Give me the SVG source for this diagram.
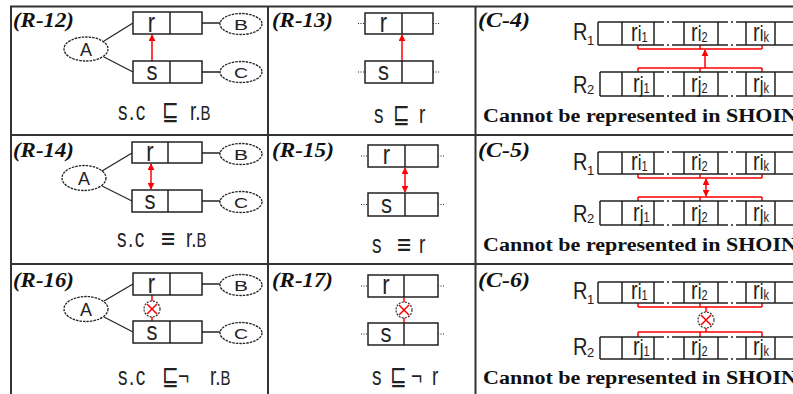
<svg xmlns="http://www.w3.org/2000/svg" width="793" height="394" viewBox="0 0 793 394">
<style>
.tb{stroke:#333;stroke-width:2;fill:none}
.bx{fill:#fff;stroke:#222;stroke-width:1.5}
.ln{stroke:#222;stroke-width:1.5;fill:none}
.el{fill:#fff;stroke:#222;stroke-width:1.3;stroke-dasharray:2.5 1}
.dl{stroke:#222;stroke-width:1.2;fill:none}
.dot{stroke:#222;stroke-width:1.2;stroke-dasharray:1 1.5}
.gap{stroke:#222;stroke-width:1.5;stroke-dasharray:10 3 2 3 30}
.red{stroke:#f00;stroke-width:1.5;fill:none}
.ox{fill:#fff;stroke:#333;stroke-width:1.2;stroke-dasharray:2 1.2}
.lab{font-family:"Liberation Serif",serif;font-weight:bold;font-style:italic;font-size:20px;fill:#111}
.cap{font-family:"Liberation Serif",serif;font-weight:bold;font-size:18px;fill:#111}
.t{font-family:"Liberation Sans","DejaVu Sans",sans-serif;fill:#222}
.sc{letter-spacing:1.5px}
.sym{font-family:"DejaVu Sans","Liberation Sans",sans-serif;fill:#222}
.bl{font-family:"Liberation Sans","DejaVu Sans",sans-serif;fill:#222;font-size:22px;text-anchor:middle}
</style>
<defs>
<marker id="ah" viewBox="0 0 10 10" refX="9" refY="5" markerWidth="7" markerHeight="7" markerUnits="userSpaceOnUse" orient="auto-start-reverse"><path d="M0,0 L10,5 L0,10 z" fill="#f00"/></marker>
</defs>
<rect width="793" height="394" fill="#fff"/>
<g id="table">
<line class="tb" x1="10" y1="6.5" x2="793" y2="6.5"/>
<line class="tb" x1="10" y1="135" x2="793" y2="135"/>
<line class="tb" x1="10" y1="264" x2="793" y2="264"/>
<line class="tb" x1="11" y1="6" x2="11" y2="394"/>
<line class="tb" x1="268" y1="6" x2="268" y2="394"/>
<line class="tb" x1="475.5" y1="6" x2="475.5" y2="394"/>
</g>
<g id="labels">
<text class="lab" x="13" y="27" textLength="61" lengthAdjust="spacingAndGlyphs">(R-12)</text>
<text class="lab" x="272" y="27" textLength="61" lengthAdjust="spacingAndGlyphs">(R-13)</text>
<text class="lab" x="478" y="27" textLength="52" lengthAdjust="spacingAndGlyphs">(C-4)</text>
<text class="lab" x="13" y="157" textLength="61" lengthAdjust="spacingAndGlyphs">(R-14)</text>
<text class="lab" x="272" y="157" textLength="62" lengthAdjust="spacingAndGlyphs">(R-15)</text>
<text class="lab" x="478" y="157" textLength="52" lengthAdjust="spacingAndGlyphs">(C-5)</text>
<text class="lab" x="13" y="287" textLength="61" lengthAdjust="spacingAndGlyphs">(R-16)</text>
<text class="lab" x="272" y="287" textLength="61" lengthAdjust="spacingAndGlyphs">(R-17)</text>
<text class="lab" x="478" y="287" textLength="52" lengthAdjust="spacingAndGlyphs">(C-6)</text>
</g>
<g id="connectors">
<line class="dl" x1="104" y1="41" x2="133" y2="23"/>
<line class="dl" x1="104" y1="57" x2="133" y2="72"/>
<line class="ln" x1="202" y1="23" x2="220" y2="23"/>
<line class="ln" x1="202" y1="72" x2="220" y2="72"/>
<line class="red" x1="152" y1="61" x2="152" y2="35" marker-end="url(#ah)"/>
<line class="dl" x1="102" y1="171" x2="132" y2="153"/>
<line class="dl" x1="102" y1="186" x2="132" y2="201"/>
<line class="ln" x1="202" y1="153" x2="220" y2="153"/>
<line class="ln" x1="202" y1="201" x2="220" y2="201"/>
<line class="red" x1="151" y1="189" x2="151" y2="164" marker-start="url(#ah)" marker-end="url(#ah)"/>
<line class="dl" x1="104" y1="301" x2="133" y2="284"/>
<line class="dl" x1="104" y1="317" x2="133" y2="332"/>
<line class="ln" x1="202" y1="284" x2="220" y2="284"/>
<line class="ln" x1="202" y1="332" x2="220" y2="332"/>
<line class="red" x1="152" y1="295" x2="152" y2="301"/>
<line class="red" x1="152" y1="317" x2="152" y2="321"/>
<line class="dot" x1="358" y1="23.5" x2="365" y2="23.5"/>
<line class="dot" x1="433" y1="23.5" x2="440" y2="23.5"/>
<line class="dot" x1="358" y1="72" x2="365" y2="72"/>
<line class="dot" x1="433" y1="72" x2="440" y2="72"/>
<line class="red" x1="402" y1="61" x2="402" y2="35" marker-end="url(#ah)"/>
<line class="dot" x1="361" y1="156" x2="368" y2="156"/>
<line class="dot" x1="438" y1="156" x2="445" y2="156"/>
<line class="dot" x1="361" y1="204.5" x2="368" y2="204.5"/>
<line class="dot" x1="438" y1="204.5" x2="445" y2="204.5"/>
<line class="red" x1="405" y1="192" x2="405" y2="168" marker-start="url(#ah)" marker-end="url(#ah)"/>
<line class="dot" x1="361" y1="286" x2="368" y2="286"/>
<line class="dot" x1="438" y1="286" x2="445" y2="286"/>
<line class="dot" x1="361" y1="334" x2="368" y2="334"/>
<line class="dot" x1="438" y1="334" x2="445" y2="334"/>
<line class="red" x1="404" y1="297" x2="404" y2="302"/>
<line class="red" x1="404" y1="318" x2="404" y2="323"/>
<path class="red" d="M638,45 V49 M700,45 V49 M762,45 V49 M638,49 H762"/>
<path class="red" d="M638,72 V68 M700,72 V68 M762,72 V68 M638,68 H762"/>
<line class="red" x1="705" y1="68" x2="705" y2="50" marker-end="url(#ah)"/>
<path class="red" d="M638,174 V178 M700,174 V178 M762,174 V178 M638,178 H762"/>
<path class="red" d="M638,201 V197 M700,201 V197 M762,201 V197 M638,197 H762"/>
<line class="red" x1="706" y1="196" x2="706" y2="179" marker-start="url(#ah)" marker-end="url(#ah)"/>
<path class="red" d="M638,303 V307 M700,303 V307 M762,303 V307 M638,307 H762"/>
<path class="red" d="M638,337 V332 M700,337 V332 M762,337 V332 M638,332 H762"/>
<line class="red" x1="706" y1="307" x2="706" y2="312"/>
<line class="red" x1="706" y1="328" x2="706" y2="332"/>
</g>
<g id="R12-A"><ellipse class="el" cx="86" cy="49" rx="22" ry="12"/><text class="t" x="86" y="55.5" font-size="18" text-anchor="middle">A</text></g>
<g id="R12-r"><rect class="bx" x="133" y="12" width="69" height="22"/><line class="ln" x1="170" y1="12" x2="170" y2="34"/><g transform="translate(151.5 31.5) scale(1 1.25)"><text class="bl">r</text></g></g>
<g id="R12-s"><rect class="bx" x="133" y="61" width="69" height="22"/><line class="ln" x1="170" y1="61" x2="170" y2="83"/><g transform="translate(152 79.5) scale(1 1.2)"><text class="bl">s</text></g></g>
<g id="R12-B"><ellipse class="el" cx="241" cy="24" rx="21" ry="10.5"/><text class="t" x="234" y="29.5" font-size="14" textLength="14" lengthAdjust="spacingAndGlyphs">B</text></g>
<g id="R12-C"><ellipse class="el" cx="241" cy="72" rx="21" ry="10.5"/><text class="t" x="234" y="77.5" font-size="14" textLength="14" lengthAdjust="spacingAndGlyphs">C</text></g>
<g id="R12-formula" transform="translate(0 120) scale(1 1.35)"><text class="t sc" x="118" font-size="19">s.c</text><text class="sym" x="162" font-size="20">⊑</text><text class="t" x="190" font-size="19">r.<tspan font-size="15">B</tspan></text></g>
<g id="R14-A"><ellipse class="el" cx="84" cy="178" rx="22" ry="12.5"/><text class="t" x="84" y="184.5" font-size="18" text-anchor="middle">A</text></g>
<g id="R14-r"><rect class="bx" x="132" y="142" width="70" height="21"/><line class="ln" x1="168" y1="142" x2="168" y2="163"/><g transform="translate(150 160.5) scale(1 1.25)"><text class="bl">r</text></g></g>
<g id="R14-s"><rect class="bx" x="132" y="190" width="70" height="22"/><line class="ln" x1="168" y1="190" x2="168" y2="212"/><g transform="translate(150 208.5) scale(1 1.2)"><text class="bl">s</text></g></g>
<g id="R14-B"><ellipse class="el" cx="241" cy="154" rx="21" ry="10.5"/><text class="t" x="234" y="159.5" font-size="14" textLength="14" lengthAdjust="spacingAndGlyphs">B</text></g>
<g id="R14-C"><ellipse class="el" cx="241" cy="202" rx="21" ry="10.5"/><text class="t" x="234" y="207.5" font-size="14" textLength="14" lengthAdjust="spacingAndGlyphs">C</text></g>
<g id="R14-formula" transform="translate(0 247) scale(1 1.35)"><text class="t sc" x="117" font-size="19">s.c</text><text class="sym" x="160" font-size="19">≡</text><text class="t" x="186" font-size="19">r.<tspan font-size="15">B</tspan></text></g>
<g id="R16-A"><ellipse class="el" cx="86" cy="309" rx="22" ry="12.5"/><text class="t" x="86" y="315.5" font-size="18" text-anchor="middle">A</text></g>
<g id="R16-r"><rect class="bx" x="133" y="273" width="69" height="22"/><line class="ln" x1="170" y1="273" x2="170" y2="295"/><g transform="translate(151.5 292.5) scale(1 1.25)"><text class="bl">r</text></g></g>
<g id="R16-s"><rect class="bx" x="133" y="321" width="69" height="22"/><line class="ln" x1="170" y1="321" x2="170" y2="343"/><g transform="translate(152 339.5) scale(1 1.2)"><text class="bl">s</text></g></g>
<g id="R16-B"><ellipse class="el" cx="241" cy="285" rx="21" ry="10.5"/><text class="t" x="234" y="290.5" font-size="14" textLength="14" lengthAdjust="spacingAndGlyphs">B</text></g>
<g id="R16-C"><ellipse class="el" cx="241" cy="333" rx="21" ry="10.5"/><text class="t" x="234" y="338.5" font-size="14" textLength="14" lengthAdjust="spacingAndGlyphs">C</text></g>
<g id="R16-not"><circle class="ox" cx="152" cy="309" r="8"/><path class="red" d="M147,304 L157,314 M157,304 L147,314"/></g>
<g id="R16-formula" transform="translate(0 385) scale(1 1.35)"><text class="t sc" x="118" font-size="19">s.c</text><text class="sym" x="162" font-size="20">⊑</text><text class="t" x="178" font-size="19">¬</text><text class="t" x="210" font-size="19">r.<tspan font-size="15">B</tspan></text></g>
<g id="R13-r"><rect class="bx" x="365" y="13" width="68" height="21"/><line class="ln" x1="402" y1="13" x2="402" y2="34"/><g transform="translate(383.5 31.5) scale(1 1.25)"><text class="bl">r</text></g></g>
<g id="R13-s"><rect class="bx" x="365" y="61" width="68" height="22"/><line class="ln" x1="402" y1="61" x2="402" y2="83"/><g transform="translate(383.5 79.5) scale(1 1.2)"><text class="bl">s</text></g></g>
<g id="R13-formula" transform="translate(0 123) scale(1 1.35)"><text class="t" x="374" font-size="19">s</text><text class="sym" x="393" font-size="20">⊑</text><text class="t" x="419" font-size="19">r</text></g>
<g id="R15-r"><rect class="bx" x="368" y="145" width="70" height="22"/><line class="ln" x1="405" y1="145" x2="405" y2="167"/><g transform="translate(386.5 164) scale(1 1.25)"><text class="bl">r</text></g></g>
<g id="R15-s"><rect class="bx" x="368" y="193" width="70" height="23"/><line class="ln" x1="405" y1="193" x2="405" y2="216"/><g transform="translate(386.5 212.5) scale(1 1.2)"><text class="bl">s</text></g></g>
<g id="R15-formula" transform="translate(0 253) scale(1 1.35)"><text class="t" x="372" font-size="19">s</text><text class="sym" x="396" font-size="19">≡</text><text class="t" x="419" font-size="19">r</text></g>
<g id="R17-r"><rect class="bx" x="368" y="275" width="70" height="22"/><line class="ln" x1="404" y1="275" x2="404" y2="297"/><g transform="translate(386 294) scale(1 1.25)"><text class="bl">r</text></g></g>
<g id="R17-s"><rect class="bx" x="368" y="323" width="70" height="22"/><line class="ln" x1="404" y1="323" x2="404" y2="345"/><g transform="translate(386 341.5) scale(1 1.2)"><text class="bl">s</text></g></g>
<g id="R17-not"><circle class="ox" cx="404" cy="310" r="8"/><path class="red" d="M399,305 L409,315 M409,305 L399,315"/></g>
<g id="R17-formula" transform="translate(0 385) scale(1 1.35)"><text class="t" x="372" font-size="19">s</text><text class="sym" x="390" font-size="20">⊑</text><text class="t" x="411" font-size="19">¬</text><text class="t" x="432" font-size="19">r</text></g>
<g id="C4-R1">
<g transform="translate(573 40) scale(1 1.2)"><text class="t" font-size="20">R</text></g><text class="t" x="587" y="45" font-size="13">1</text>
<path class="ln" d="M598,22 H654 M684,22 H718 M746,22 H795 M598,45 H654 M684,45 H718 M746,45 H795 M598,22 V45 M622,22 V45 M654,22 V45 M684,22 V45 M718,22 V45 M746,22 V45 M775,22 V45"/>
<line class="gap" x1="654" y1="22" x2="684" y2="22"/><line class="gap" x1="654" y1="45" x2="684" y2="45"/>
<line class="gap" x1="718" y1="22" x2="746" y2="22"/><line class="gap" x1="718" y1="45" x2="746" y2="45"/>
<g transform="translate(631 41) scale(1 1.25)"><text class="t" font-size="20">r<tspan font-size="17">i</tspan><tspan font-size="11" dy="1">1</tspan></text></g>
<g transform="translate(691 41) scale(1 1.25)"><text class="t" font-size="20">r<tspan font-size="17">i</tspan><tspan font-size="11" dy="1">2</tspan></text></g>
<g transform="translate(753 41) scale(1 1.25)"><text class="t" font-size="20">r<tspan font-size="17">i</tspan><tspan font-size="11" dy="1">k</tspan></text></g>
</g>
<g id="C4-R2">
<g transform="translate(573 93) scale(1 1.2)"><text class="t" font-size="20">R</text></g><text class="t" x="587" y="94" font-size="13">2</text>
<path class="ln" d="M600,72 H654 M684,72 H718 M746,72 H795 M600,96 H654 M684,96 H718 M746,96 H795 M600,72 V96 M622,72 V96 M654,72 V96 M684,72 V96 M718,72 V96 M746,72 V96 M775,72 V96"/>
<line class="gap" x1="654" y1="72" x2="684" y2="72"/><line class="gap" x1="654" y1="96" x2="684" y2="96"/>
<line class="gap" x1="718" y1="72" x2="746" y2="72"/><line class="gap" x1="718" y1="96" x2="746" y2="96"/>
<g transform="translate(633 92) scale(1 1.25)"><text class="t" font-size="20">r<tspan font-size="17">j</tspan><tspan font-size="11" dy="1">1</tspan></text></g>
<g transform="translate(691 92) scale(1 1.25)"><text class="t" font-size="20">r<tspan font-size="17">j</tspan><tspan font-size="11" dy="1">2</tspan></text></g>
<g transform="translate(753 92) scale(1 1.25)"><text class="t" font-size="20">r<tspan font-size="17">j</tspan><tspan font-size="11" dy="1">k</tspan></text></g>
</g>
<text class="cap" x="483" y="122" textLength="314" lengthAdjust="spacingAndGlyphs">Cannot be represented in SHOIN</text>
<g id="C5-R1">
<g transform="translate(573 170) scale(1 1.2)"><text class="t" font-size="20">R</text></g><text class="t" x="587" y="175" font-size="13">1</text>
<path class="ln" d="M598,152 H654 M684,152 H718 M746,152 H795 M598,174 H654 M684,174 H718 M746,174 H795 M598,152 V174 M622,152 V174 M654,152 V174 M684,152 V174 M718,152 V174 M746,152 V174 M775,152 V174"/>
<line class="gap" x1="654" y1="152" x2="684" y2="152"/><line class="gap" x1="654" y1="174" x2="684" y2="174"/>
<line class="gap" x1="718" y1="152" x2="746" y2="152"/><line class="gap" x1="718" y1="174" x2="746" y2="174"/>
<g transform="translate(631 170) scale(1 1.25)"><text class="t" font-size="20">r<tspan font-size="17">i</tspan><tspan font-size="11" dy="1">1</tspan></text></g>
<g transform="translate(691 170) scale(1 1.25)"><text class="t" font-size="20">r<tspan font-size="17">i</tspan><tspan font-size="11" dy="1">2</tspan></text></g>
<g transform="translate(753 170) scale(1 1.25)"><text class="t" font-size="20">r<tspan font-size="17">i</tspan><tspan font-size="11" dy="1">k</tspan></text></g>
</g>
<g id="C5-R2">
<g transform="translate(573 222) scale(1 1.2)"><text class="t" font-size="20">R</text></g><text class="t" x="587" y="223" font-size="13">2</text>
<path class="ln" d="M600,201 H654 M684,201 H718 M746,201 H795 M600,225 H654 M684,225 H718 M746,225 H795 M600,201 V225 M622,201 V225 M654,201 V225 M684,201 V225 M718,201 V225 M746,201 V225 M775,201 V225"/>
<line class="gap" x1="654" y1="201" x2="684" y2="201"/><line class="gap" x1="654" y1="225" x2="684" y2="225"/>
<line class="gap" x1="718" y1="201" x2="746" y2="201"/><line class="gap" x1="718" y1="225" x2="746" y2="225"/>
<g transform="translate(633 221) scale(1 1.25)"><text class="t" font-size="20">r<tspan font-size="17">j</tspan><tspan font-size="11" dy="1">1</tspan></text></g>
<g transform="translate(691 221) scale(1 1.25)"><text class="t" font-size="20">r<tspan font-size="17">j</tspan><tspan font-size="11" dy="1">2</tspan></text></g>
<g transform="translate(753 221) scale(1 1.25)"><text class="t" font-size="20">r<tspan font-size="17">j</tspan><tspan font-size="11" dy="1">k</tspan></text></g>
</g>
<text class="cap" x="483" y="251" textLength="314" lengthAdjust="spacingAndGlyphs">Cannot be represented in SHOIN</text>
<g id="C6-R1">
<g transform="translate(573 299) scale(1 1.2)"><text class="t" font-size="20">R</text></g><text class="t" x="587" y="304" font-size="13">1</text>
<path class="ln" d="M598,282 H654 M684,282 H718 M746,282 H795 M598,303 H654 M684,303 H718 M746,303 H795 M598,282 V303 M622,282 V303 M654,282 V303 M684,282 V303 M718,282 V303 M746,282 V303 M775,282 V303"/>
<line class="gap" x1="654" y1="282" x2="684" y2="282"/><line class="gap" x1="654" y1="303" x2="684" y2="303"/>
<line class="gap" x1="718" y1="282" x2="746" y2="282"/><line class="gap" x1="718" y1="303" x2="746" y2="303"/>
<g transform="translate(631 299) scale(1 1.25)"><text class="t" font-size="20">r<tspan font-size="17">i</tspan><tspan font-size="11" dy="1">1</tspan></text></g>
<g transform="translate(691 299) scale(1 1.25)"><text class="t" font-size="20">r<tspan font-size="17">i</tspan><tspan font-size="11" dy="1">2</tspan></text></g>
<g transform="translate(753 299) scale(1 1.25)"><text class="t" font-size="20">r<tspan font-size="17">i</tspan><tspan font-size="11" dy="1">k</tspan></text></g>
</g>
<g id="C6-not"><circle class="ox" cx="706" cy="320" r="8"/><path class="red" d="M701,315 L711,325 M711,315 L701,325"/></g>
<g id="C6-R2">
<g transform="translate(573 355) scale(1 1.2)"><text class="t" font-size="20">R</text></g><text class="t" x="587" y="357" font-size="13">2</text>
<path class="ln" d="M600,337 H654 M684,337 H718 M746,337 H795 M600,359 H654 M684,359 H718 M746,359 H795 M600,337 V359 M622,337 V359 M654,337 V359 M684,337 V359 M718,337 V359 M746,337 V359 M775,337 V359"/>
<line class="gap" x1="654" y1="337" x2="684" y2="337"/><line class="gap" x1="654" y1="359" x2="684" y2="359"/>
<line class="gap" x1="718" y1="337" x2="746" y2="337"/><line class="gap" x1="718" y1="359" x2="746" y2="359"/>
<g transform="translate(633 355) scale(1 1.25)"><text class="t" font-size="20">r<tspan font-size="17">j</tspan><tspan font-size="11" dy="1">1</tspan></text></g>
<g transform="translate(691 355) scale(1 1.25)"><text class="t" font-size="20">r<tspan font-size="17">j</tspan><tspan font-size="11" dy="1">2</tspan></text></g>
<g transform="translate(753 355) scale(1 1.25)"><text class="t" font-size="20">r<tspan font-size="17">j</tspan><tspan font-size="11" dy="1">k</tspan></text></g>
</g>
<text class="cap" x="483" y="384" textLength="314" lengthAdjust="spacingAndGlyphs">Cannot be represented in SHOIN</text>
</svg>
